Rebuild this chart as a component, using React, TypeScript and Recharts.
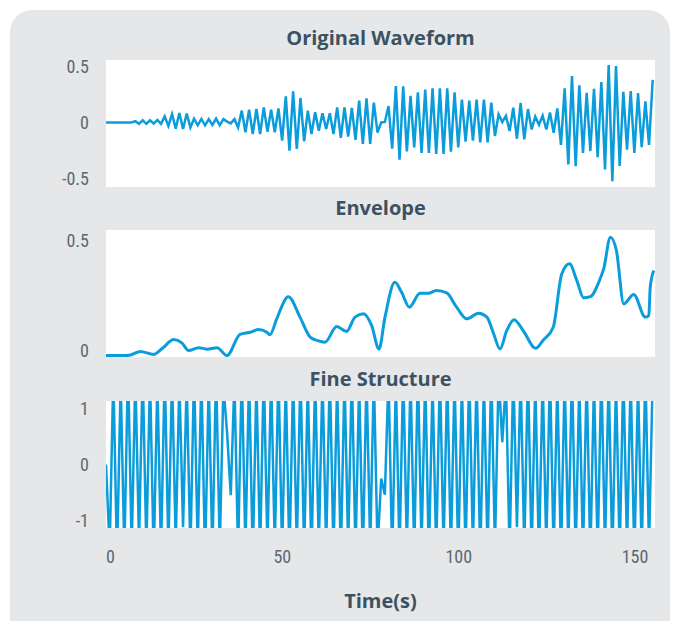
import React from "react"
import { LineChart, Line, XAxis, YAxis, CartesianGrid } from "recharts"

// sampled signal, evenly spaced from t = 0 to t = 155
const waveform = [
  0, 0, 0, 0, 0, 0, 0, 0, 0.012, -0.012,
  0.02, -0.012, 0.02, -0.01, 0.022, -0.012, 0.055, -0.03, 0.075, -0.055,
  0.085, -0.058, 0.08, -0.045, 0.035, -0.025, 0.032, -0.025, 0.03,
  -0.022, 0.035, -0.025, 0.03, 0.008, -0.008, 0.03, -0.045, 0.106, -0.088,
  0.115, -0.103, 0.12, -0.103, 0.135, -0.082, 0.115, -0.088, 0.126, -0.162,
  0.234, -0.251, 0.278, -0.237, 0.219, -0.168, 0.106, -0.103, 0.091, -0.073,
  0.082, -0.058, 0.082, -0.103, 0.135, -0.138, 0.135, -0.126, 0.13,
  -0.156, 0.195, -0.192, 0.216, -0.192, 0.177, -0.09, 0.0, 0.005, 0.147,
  -0.234, 0.326, -0.332, 0.323, -0.258, 0.237, -0.222, 0.27, -0.272,
  0.293, -0.272, 0.305, -0.28, 0.305, -0.28, 0.305, -0.26, 0.27,
  -0.222, 0.204, -0.171, 0.195, -0.162, 0.204, -0.177, 0.204, -0.177, 0.177,
  -0.12, 0.073, 0.004, 0.06, -0.076, 0.132, -0.145, 0.175, -0.15, 0.12,
  -0.062, 0.052, -0.02, 0.06, -0.062, 0.09, -0.092, 0.125, -0.2, 0.305,
  -0.375, 0.415, -0.39, 0.333, -0.272, 0.265, -0.255, 0.3, -0.31,
  0.36, -0.42, 0.512, -0.525, 0.505, -0.387, 0.273, -0.243, 0.28,
  -0.272, 0.262, -0.22, 0.188, -0.2, 0.38,
]

const fineStructure = [
  0, -1.5, 1.6, -1.7, 1.5, -1.6, 1.8, -1.5, 1.6, -1.4,
  1.7, -1.5, 1.6, -1.7, 1.5, -1.6, 1.7, -1.5, 1.6, -1.4,
  1.5, -1.12, 1.5, -1.6, 1.7, -1.5, 1.6, -1.7, 1.5,
  -1.6, 1.7, -1.5, 1.4, 0.57, -0.55, 1.5, -1.6, 1.7, -1.5,
  1.6, -1.7, 1.5, -1.6, 1.7, -1.5, 1.6, -1.5, 1.7, -1.6,
  1.5, -1.7, 1.6, -1.5, 1.7, -1.6, 1.5, -1.7, 1.6, -1.5,
  1.6, -1.5, 1.7, -1.6, 1.5, -1.7, 1.6, -1.5, 1.7,
  -1.6, 1.5, -1.7, 1.6, -1.5, 1.6, -1.5, -0.25, -0.54, 1.6,
  -1.7, 1.5, -1.6, 1.7, -1.5, 1.6, -1.6, 1.7, -1.5,
  1.6, -1.7, 1.5, -1.6, 1.7, -1.5, 1.6, -1.6, 1.6,
  -1.7, 1.5, -1.6, 1.7, -1.5, 1.6, -1.7, 1.5, -1.6, 1.7,
  -1.5, 1.6, 0.4, 1.5, -1.6, 1.7, -1.12, 1.6, -1.5, 1.7,
  -1.6, 1.5, -1.7, 1.6, -1.5, 1.7, -1.6, 1.5, -1.7, 1.6,
  -1.5, 1.7, -1.6, 1.5, -1.6, 1.6, -1.7, 1.5, -1.6,
  1.7, -1.5, 1.6, -1.7, 1.5, -1.6, 1.7, -1.5, 1.6,
  -1.7, 1.5, -1.6, 1.7, -1.5, 1.6,
]

// smooth envelope, read as knots
const envelopeTime = [
  0, 4.4, 7, 9.7, 13.5, 16, 19.2, 21.5, 23.4, 26.3,
  28.6, 31.5, 34.3, 38, 40.9, 43.2, 45.6, 46.5, 48.4, 51.7,
  55, 57.9, 60, 62.1, 65.4, 68.2, 70.6, 73, 75.3, 77.4,
  79.1, 81.9, 83.8, 86, 89, 91.4, 93.7, 96.6, 99.4, 102.3,
  105.6, 108, 109.9, 111.7, 113.6, 115.7, 118.3, 121.8, 124, 126.8,
  129.2, 131.4, 133.5, 135.4, 137.3, 140.1, 141.1, 143, 144.7, 146.8,
  149.6, 152.9, 153.9, 154.3, 155.3,
]
const envelopeValue = [
  -0.023, -0.023, -0.02, -0.004, -0.018, 0.01, 0.05, 0.035, 0.0, 0.013,
  0.006, 0.013, -0.023, 0.073, 0.083, 0.095, 0.083, 0.072, 0.144, 0.245,
  0.152, 0.061, 0.045, 0.038, 0.109, 0.087, 0.152, 0.167, 0.114, 0.007,
  0.152, 0.31, 0.265, 0.197, 0.26, 0.26, 0.273, 0.262, 0.197, 0.144,
  0.17, 0.152, 0.076, 0.007, 0.09, 0.14, 0.09, 0.01, 0.048, 0.106,
  0.348, 0.394, 0.318, 0.24, 0.245, 0.326, 0.371, 0.515, 0.455, 0.212,
  0.255, 0.152, 0.159, 0.288, 0.364,
]

const timeTicks = [0, 50, 100, 150]
const xDomain: [number, number] = [0, 155.65]
const lastTime = 155

const sampleStep = lastTime / (waveform.length - 1)
const signalData = waveform.map((v, i) => ({ t: i * sampleStep, wave: v, fine: fineStructure[i] }))
const envelopeData = envelopeTime.map((t, i) => ({ t, env: envelopeValue[i] }))

const BLUE = "#0b9ddb"
const TITLE = "#3c5262"
const TICK = "#5d6870"
const tickFont = "'Roboto Condensed', 'DejaVu Sans Condensed', 'Liberation Sans Narrow', Roboto, sans-serif"
const titleFont = "'Open Sans', 'Noto Sans', sans-serif"

const yTick = { fill: TICK, fontSize: 18, fontFamily: tickFont }

function TimeTick(props: any) {
  const { x, y, payload } = props
  const first = payload.value === 0
  return (
    <text
      x={x}
      y={y}
      dy="0.71em"
      textAnchor={first ? "start" : "middle"}
      fill={TICK}
      fontSize={18}
      fontFamily={tickFont}
    >
      {payload.value}
    </text>
  )
}

function Title({ text, top }: { text: string; top: number }) {
  return (
    <div
      style={{
        position: "absolute",
        left: 106,
        width: 549,
        top,
        textAlign: "center",
        fontFamily: titleFont,
        fontWeight: 700,
        fontSize: 20,
        lineHeight: "24px",
        color: TITLE,
      }}
    >
      {text}
    </div>
  )
}

const PLOT_H = 127
const margin = { top: 10, right: 18, bottom: 10, left: 0 }

export default function App() {
  return (
    <div
      style={{
        position: "absolute",
        left: 0,
        top: 0,
        width: 673,
        height: 621,
        overflow: "hidden",
        background: "#ffffff",
      }}
    >
      <div
        style={{
          position: "absolute",
          left: 10,
          top: 10,
          width: 660,
          height: 660,
          borderRadius: 22,
          background: "#e6e7e9",
        }}
      />

      <Title text="Original Waveform" top={26} />
      <div style={{ position: "absolute", left: 0, top: 49.5 }}>
        <LineChart width={673} height={PLOT_H + 20} data={signalData} margin={margin}>
          <CartesianGrid fill="#ffffff" horizontal={false} vertical={false} />
          <XAxis type="number" dataKey="t" domain={xDomain} allowDataOverflow hide />
          <YAxis
            type="number"
            domain={[-0.576, 0.558]}
            allowDataOverflow
            ticks={[-0.5, 0, 0.5]}
            width={106}
            axisLine={false}
            tickLine={false}
            tickMargin={11}
            tick={yTick}
          />
          <Line
            type="linear"
            dataKey="wave"
            stroke={BLUE}
            strokeWidth={2.5}
            dot={false}
            isAnimationActive={false}
          />
        </LineChart>
      </div>

      <Title text="Envelope" top={196} />
      <div style={{ position: "absolute", left: 0, top: 219.5 }}>
        <LineChart width={673} height={PLOT_H + 20} data={envelopeData} margin={margin}>
          <CartesianGrid fill="#ffffff" horizontal={false} vertical={false} />
          <XAxis type="number" dataKey="t" domain={xDomain} allowDataOverflow hide />
          <YAxis
            type="number"
            domain={[-0.0295, 0.548]}
            allowDataOverflow
            ticks={[0, 0.5]}
            width={106}
            axisLine={false}
            tickLine={false}
            tickMargin={11}
            tick={yTick}
          />
          <Line
            type="monotone"
            dataKey="env"
            stroke={BLUE}
            strokeWidth={3}
            dot={false}
            isAnimationActive={false}
          />
        </LineChart>
      </div>

      <Title text="Fine Structure" top={367} />
      <div style={{ position: "absolute", left: 0, top: 391 }}>
        <LineChart
          width={673}
          height={PLOT_H + 10 + 90}
          data={signalData}
          margin={{ top: 10, right: 18, bottom: 0, left: 0 }}
        >
          <CartesianGrid fill="#ffffff" horizontal={false} vertical={false} />
          <XAxis
            type="number"
            dataKey="t"
            domain={xDomain}
            allowDataOverflow
            ticks={timeTicks}
            height={90}
            axisLine={false}
            tickLine={false}
            tickMargin={16}
            tick={<TimeTick />}
            label={{
              value: "Time(s)",
              position: "insideBottom",
              offset: 10,
              fill: TITLE,
              fontSize: 20,
              fontWeight: 700,
              fontFamily: titleFont,
            }}
          />
          <YAxis
            type="number"
            domain={[-1.134, 1.134]}
            allowDataOverflow
            ticks={[-1, 0, 1]}
            width={106}
            axisLine={false}
            tickLine={false}
            tickMargin={11}
            tick={yTick}
          />
          <Line
            type="linear"
            dataKey="fine"
            stroke={BLUE}
            strokeWidth={2.5}
            dot={false}
            isAnimationActive={false}
          />
        </LineChart>
      </div>
    </div>
  )
}
